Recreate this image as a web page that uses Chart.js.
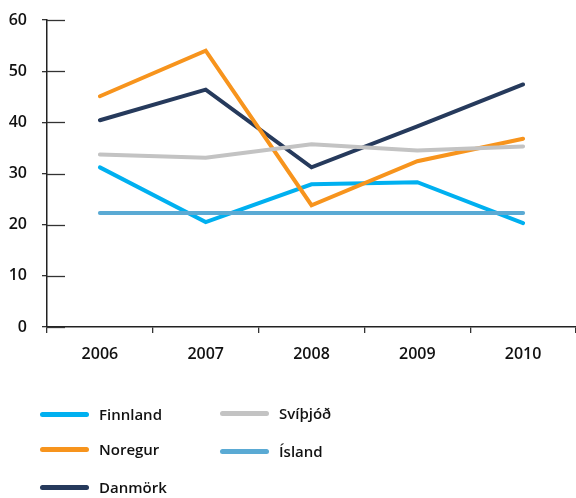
<!DOCTYPE html>
<html>
<head>
<meta charset="utf-8">
<script src="https://cdn.jsdelivr.net/npm/chart.js"></script>
<style>
  html, body { margin: 0; padding: 0; background: #fff; }
  #wrap { position: relative; width: 576px; height: 498px; }
  #legend { position: absolute; left: 0; top: 0; width: 576px; height: 498px; pointer-events: none;
    font-family: "Open Sans", "Noto Sans", sans-serif; font-size: 15px; font-weight: 600; color: #111; }
  .item { position: absolute; height: 20px; }
  .sw { position: absolute; left: 0; top: 8px; width: 49px; height: 5px; border-radius: 3px; }
  .lb { position: absolute; left: 59px; top: 0; line-height: 20px; white-space: nowrap; }
</style>
</head>
<body>
<div id="wrap">
  <canvas id="myChart" width="576" height="498"></canvas>
  <div id="legend"></div>
</div>
<script>
var years = ["2006", "2007", "2008", "2009", "2010"];
var finnland = [31.2, 20.5, 27.9, 28.3, 20.3];
var noregur = [45.1, 54.0, 23.8, 32.4, 36.8];
var danmork = [40.4, 46.4, 31.2, 39.2, 47.4];
var svithjod = [33.7, 33.1, 35.7, 34.5, 35.3];
var island = [22.3, 22.3, 22.3, 22.3, 22.3];
var yTicks = [0, 10, 20, 30, 40, 50, 60];

// legend slots: column-major, 3 rows
var legendPos = [[40, 404], [40, 439], [40, 477], [220, 403], [220, 441]];

function line(label, data, color, order) {
  return {
    label: label,
    data: data,
    borderColor: color,
    backgroundColor: color,
    borderWidth: 4,
    pointRadius: 0,
    tension: 0,
    borderCapStyle: "round",
    borderJoinStyle: "miter",
    order: order
  };
}

// short tick stubs that reach into the plot from the y axis
var innerTicks = {
  id: "innerTicks",
  afterDatasetsDraw: function (chart) {
    var y = chart.scales.y;
    var ctx = chart.ctx;
    ctx.save();
    ctx.strokeStyle = "#333";
    ctx.lineWidth = 1.3;
    yTicks.forEach(function (v) {
      var py = Math.round(y.getPixelForValue(v)) + 0.5;
      ctx.beginPath();
      ctx.moveTo(y.right, py);
      ctx.lineTo(y.right + 18, py);
      ctx.stroke();
    });
    ctx.restore();
  }
};

var tickFont = { family: "Open Sans", size: 16, weight: 600 };

var ctx = document.getElementById("myChart").getContext("2d");
var myChart = new Chart(ctx, {
  type: "line",
  data: {
    labels: years,
    datasets: [
      line("Finnland", finnland, "#00b0f0", 4),
      line("Noregur", noregur, "#f7941d", 2),
      line("Danmörk", danmork, "#263a5c", 3),
      line("Svíþjóð", svithjod, "#c3c3c3", 1),
      line("Ísland", island, "#5aaad4", 0)
    ]
  },
  plugins: [innerTicks],
  options: {
    responsive: false,
    animation: false,
    layout: { padding: { top: 20, left: 0, right: 0, bottom: 0 } },
    plugins: {
      legend: { display: false },
      tooltip: { enabled: false }
    },
    scales: {
      x: {
        offset: true,
        grid: { offset: true, drawOnChartArea: false, tickLength: 6, color: "#333", lineWidth: 1.3 },
        border: { color: "#222", width: 1.5 },
        ticks: { color: "#111", padding: 12, font: tickFont },
        afterFit: function (s) { s.height = 171; s.paddingLeft = 0; s.paddingRight = 0; }
      },
      y: {
        min: 0,
        max: 60,
        afterBuildTicks: function (s) { s.ticks = yTicks.map(function (v) { return { value: v }; }); },
        grid: { drawOnChartArea: false, tickLength: 5, color: "#333", lineWidth: 1.3 },
        border: { color: "#222", width: 1.5 },
        ticks: { color: "#111", padding: 15, font: tickFont },
        afterFit: function (s) { s.width = 47; s.paddingTop = 0; s.paddingBottom = 0; }
      }
    }
  }
});

var legend = document.getElementById("legend");
myChart.data.datasets.forEach(function (ds, i) {
  var item = document.createElement("div");
  item.className = "item";
  item.style.left = legendPos[i][0] + "px";
  item.style.top = legendPos[i][1] + "px";
  var sw = document.createElement("div");
  sw.className = "sw";
  sw.style.background = ds.borderColor;
  var lb = document.createElement("div");
  lb.className = "lb";
  lb.textContent = ds.label;
  item.appendChild(sw);
  item.appendChild(lb);
  legend.appendChild(item);
});
</script>
</body>
</html>
